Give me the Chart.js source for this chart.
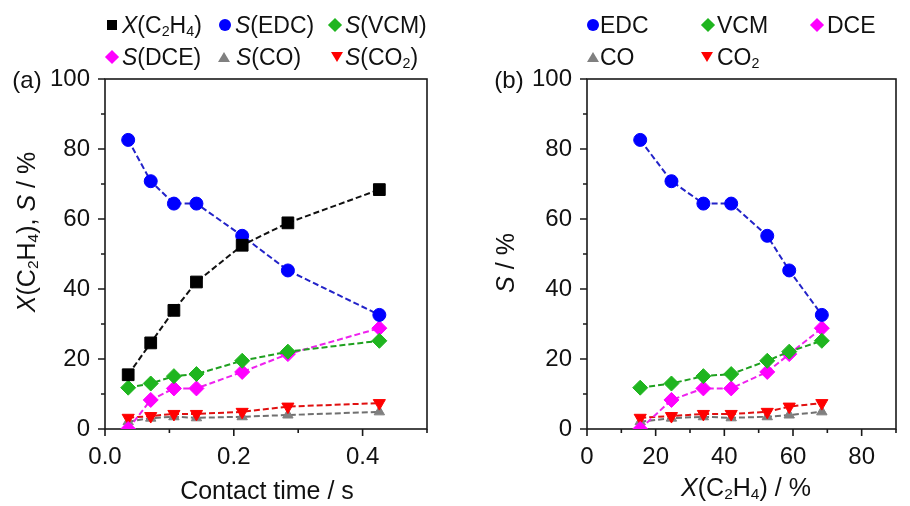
<!DOCTYPE html>
<html>
<head>
<meta charset="utf-8">
<script src="https://cdn.jsdelivr.net/npm/chart.js@4.4.1/dist/chart.umd.min.js"></script>
<style>
  body { margin: 0; background: #fff; }
  #page { position: relative; width: 910px; height: 506px; overflow: hidden;
          font-family: 'Liberation Sans', Arial, sans-serif; color: #111; }
  canvas { position: absolute; top: 0; }
  .txt { position: absolute; white-space: nowrap; line-height: 1; }
  .lg { font-size: 23px; transform: translateY(-50%); }
  .ttl { font-size: 25px; transform: translate(-50%, -50%); }
  .rot { font-size: 25px; transform: translate(-50%, -50%) rotate(-90deg); }
  .tag { font-size: 24px; transform: translate(-50%, -50%); }
  sub { font-size: 0.62em; vertical-align: -0.25em; line-height: 0; }
  .mk { position: absolute; transform: translate(-50%, -50%); }
  .sq { width: 10px; height: 10px; background: #000; }
  .ci { width: 12px; height: 12px; border-radius: 50%; background: #0000ff; }
  .di { width: 10px; height: 10px; transform: translate(-50%, -50%) rotate(45deg); }
  .tu { width: 0; height: 0; border-left: 6px solid transparent; border-right: 6px solid transparent;
        border-bottom: 10px solid #808080; }
  .td { width: 0; height: 0; border-left: 6px solid transparent; border-right: 6px solid transparent;
        border-top: 10px solid #ff0000; }
</style>
</head>
<body>
<div id="page">
  <canvas id="chart-a" width="455" height="506" style="left:0"></canvas>
  <canvas id="chart-b" width="455" height="506" style="left:455px"></canvas>

  <!-- legend (a) -->
  <div class="mk sq" style="left:112px;top:25px"></div>
  <div class="txt lg" style="left:122px;top:25px"><i>X</i>(C<sub>2</sub>H<sub>4</sub>)</div>
  <div class="mk ci" style="left:225px;top:25px"></div>
  <div class="txt lg" style="left:235px;top:25px"><i>S</i>(EDC)</div>
  <div class="mk di" style="left:335px;top:25px;background:#1fb51f"></div>
  <div class="txt lg" style="left:345px;top:25px"><i>S</i>(VCM)</div>
  <div class="mk di" style="left:112px;top:57px;background:#ff00ff"></div>
  <div class="txt lg" style="left:122px;top:57px"><i>S</i>(DCE)</div>
  <div class="mk tu" style="left:224px;top:57px"></div>
  <div class="txt lg" style="left:236px;top:57px"><i>S</i>(CO)</div>
  <div class="mk td" style="left:337px;top:57px"></div>
  <div class="txt lg" style="left:345px;top:57px"><i>S</i>(CO<sub>2</sub>)</div>

  <!-- legend (b) -->
  <div class="mk ci" style="left:593px;top:25px"></div>
  <div class="txt lg" style="left:600px;top:25px">EDC</div>
  <div class="mk di" style="left:708px;top:25px;background:#1fb51f"></div>
  <div class="txt lg" style="left:717px;top:25px">VCM</div>
  <div class="mk di" style="left:817px;top:25px;background:#ff00ff"></div>
  <div class="txt lg" style="left:827px;top:25px">DCE</div>
  <div class="mk tu" style="left:593px;top:57px"></div>
  <div class="txt lg" style="left:600px;top:57px">CO</div>
  <div class="mk td" style="left:707px;top:57px"></div>
  <div class="txt lg" style="left:717px;top:57px">CO<sub>2</sub></div>

  <!-- panel tags and axis titles -->
  <div class="txt tag" style="left:27px;top:80px">(a)</div>
  <div class="txt tag" style="left:509px;top:80px">(b)</div>
  <div class="txt rot" style="left:26px;top:232px"><i>X</i>(C<sub>2</sub>H<sub>4</sub>), <i>S</i> / %</div>
  <div class="txt rot" style="left:505px;top:263px"><i>S</i> / %</div>
  <div class="txt ttl" style="left:267px;top:490px">Contact time / s</div>
  <div class="txt ttl" style="left:746px;top:487px"><i>X</i>(C<sub>2</sub>H<sub>4</sub>) / %</div>
</div>

<script>
// Data
const contactTime = [0.036, 0.071, 0.107, 0.142, 0.213, 0.284, 0.426];
const convC2H4    = [15.5, 24.6, 33.9, 42.0, 52.5, 58.9, 68.4];
const selEDC      = [82.6, 70.8, 64.4, 64.4, 55.2, 45.3, 32.6];
const selVCM      = [11.8, 13.0, 15.1, 15.7, 19.5, 22.1, 25.2];
const selDCE      = [0.0, 8.3, 11.6, 11.6, 16.3, 21.4, 28.8];
const selCO       = [2.1, 3.1, 3.5, 3.2, 3.5, 4.0, 4.9];
const selCO2      = [3.2, 3.7, 4.3, 4.3, 4.9, 6.4, 7.4];

const FONT = { family: "'Liberation Sans', Arial, sans-serif", size: 24 };

// Box around plot area + outward ticks (long for labelled, short for minor)
const framePlugin = {
  id: 'frame',
  beforeDatasetsDraw(chart) {
    const { ctx, chartArea: a, scales } = chart;
    ctx.save();
    ctx.strokeStyle = '#1a1a1a';
    ctx.lineWidth = 1.6;
    ctx.strokeRect(a.left, a.top, a.right - a.left, a.bottom - a.top);
    ctx.beginPath();
    scales.x.ticks.forEach(t => {
      const px = scales.x.getPixelForValue(t.value);
      ctx.moveTo(px, a.bottom);
      ctx.lineTo(px, a.bottom + (t.label ? 7 : 4));
    });
    scales.y.ticks.forEach(t => {
      const py = scales.y.getPixelForValue(t.value);
      ctx.moveTo(a.left, py);
      ctx.lineTo(a.left - (t.label ? 7 : 4), py);
    });
    ctx.stroke();
    ctx.restore();
  }
};

function series(label, xs, ys, color, lineColor, style, radius, rotation) {
  return {
    label,
    data: xs.map((x, i) => ({ x, y: ys[i] })),
    showLine: true,
    borderColor: lineColor,
    borderWidth: 2,
    borderDash: [6, 3],
    backgroundColor: color,
    pointBackgroundColor: color,
    pointBorderColor: color,
    pointBorderWidth: 1,
    pointStyle: style,
    pointRadius: radius,
    pointRotation: rotation || 0
  };
}

function selectivitySets(xs) {
  return [
    series('EDC', xs, selEDC, '#0000ff', '#2323c8', 'circle', 6.5),
    series('VCM', xs, selVCM, '#1fb51f', '#1fa01f', 'rectRot', 7.5),
    series('DCE', xs, selDCE, '#ff00ff', '#ee22ee', 'rectRot', 7.5),
    series('CO2', xs, selCO2, '#ff0000', '#e01010', 'triangle', 7, 180),
    series('CO', xs, selCO, '#808080', '#707070', 'triangle', 6)
  ];
}

function makeChart(id, datasets, xOpts, yWidth, padRight) {
  return new Chart(document.getElementById(id).getContext('2d'), {
    type: 'scatter',
    data: { datasets },
    options: {
      responsive: false,
      animation: false,
      events: [],
      layout: { padding: { left: 0, top: 79, right: padRight, bottom: 0 } },
      plugins: { legend: { display: false }, tooltip: { enabled: false } },
      scales: {
        x: Object.assign({
          type: 'linear',
          grid: { display: false, drawTicks: false },
          border: { display: false },
          afterFit: s => { s.height = 77; }
        }, xOpts),
        y: {
          min: 0, max: 100,
          grid: { display: false, drawTicks: false },
          border: { display: false },
          ticks: {
            stepSize: 10, autoSkip: false, padding: 15, color: '#111', font: FONT,
            callback: v => (Math.round(v) % 20 === 0 ? String(Math.round(v)) : '')
          },
          afterFit: s => { s.width = yWidth; }
        }
      }
    },
    plugins: [framePlugin]
  });
}

makeChart('chart-a',
  [series('X', contactTime, convC2H4, '#000000', '#111111', 'rect', 8.3)]
    .concat(selectivitySets(contactTime)),
  {
    min: 0, max: 0.5,
    ticks: {
      stepSize: 0.1, autoSkip: false, padding: 14, color: '#111', font: FONT,
      callback: v => (Math.round(v * 10) % 2 === 0 ? v.toFixed(1) : '')
    }
  },
  105, 28);

makeChart('chart-b',
  selectivitySets(convC2H4),
  {
    min: 0, max: 90,
    ticks: {
      stepSize: 10, autoSkip: false, padding: 14, color: '#111', font: FONT,
      callback: v => (Math.round(v) % 20 === 0 ? String(Math.round(v)) : '')
    }
  },
  132, 2);
</script>
</body>
</html>
